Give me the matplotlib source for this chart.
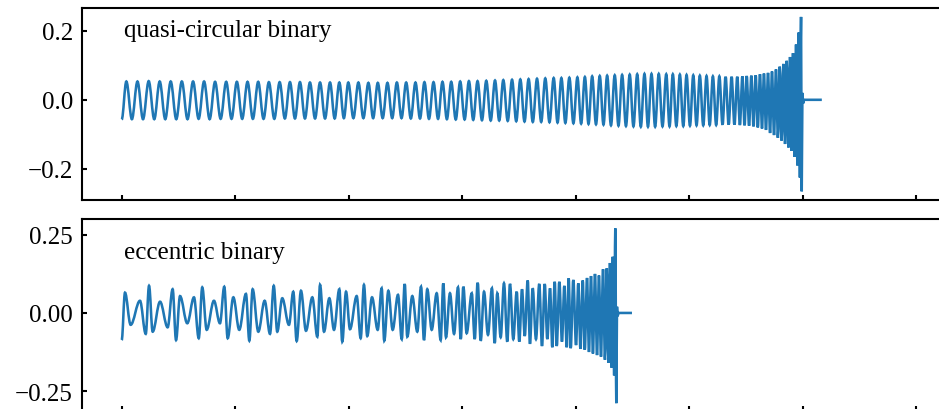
import matplotlib
matplotlib.use("Agg")
import matplotlib.pyplot as plt
from matplotlib.path import Path
from matplotlib.patches import PathPatch
import numpy as np

plt.rcParams['font.family'] = 'serif'
plt.rcParams['font.serif'] = ['Liberation Serif', 'DejaVu Serif']
plt.rcParams['axes.unicode_minus'] = True

# ---- data: extrema of each waveform (time in tick units, strain) ----
# quasi-circular binary: alternating trough / peak
circ_t = [
    0.000, 0.041, 0.090, 0.139, 0.188, 0.238, 0.287, 0.335, 0.384, 0.432,
    0.481, 0.530, 0.580, 0.629, 0.678, 0.726, 0.775, 0.823, 0.872, 0.921,
    0.968, 1.015, 1.062, 1.109, 1.156, 1.203, 1.250, 1.297, 1.345, 1.392,
    1.438, 1.483, 1.527, 1.571, 1.615, 1.659, 1.704, 1.748, 1.792, 1.836,
    1.877, 1.918, 1.958, 1.997, 2.042, 2.086, 2.130, 2.174, 2.216, 2.257,
    2.300, 2.342, 2.384, 2.425, 2.466, 2.507, 2.548, 2.589, 2.629, 2.668,
    2.708, 2.748, 2.788, 2.827, 2.866, 2.904, 2.944, 2.983, 3.022, 3.060,
    3.098, 3.136, 3.175, 3.213, 3.252, 3.290, 3.327, 3.363, 3.402, 3.440,
    3.477, 3.513, 3.550, 3.586, 3.623, 3.660, 3.697, 3.733, 3.770, 3.807,
    3.841, 3.875, 3.910, 3.945, 3.981, 4.016, 4.049, 4.082, 4.114, 4.146,
    4.180, 4.213, 4.246, 4.278, 4.312, 4.345, 4.378, 4.410, 4.444, 4.477,
    4.510, 4.543, 4.575, 4.607, 4.638, 4.669, 4.701, 4.733, 4.766, 4.799,
    4.828, 4.857, 4.888, 4.919, 4.949, 4.978, 5.008, 5.037, 5.066, 5.095,
    5.125, 5.154, 5.182, 5.210, 5.239, 5.267, 5.295, 5.322, 5.349, 5.375,
    5.400, 5.425, 5.448, 5.470, 5.489, 5.508, 5.529, 5.549, 5.568, 5.587,
    5.606, 5.625, 5.643, 5.660, 5.678, 5.696, 5.714, 5.731, 5.749, 5.766,
    5.783, 5.799, 5.815, 5.831, 5.846, 5.861, 5.876, 5.890, 5.903, 5.916,
    5.930, 5.943, 5.955, 5.967, 5.977, 5.987, 5.993, 5.999, 6.005, 6.012,
    6.170,
]
circ_h = [
    -0.057, 0.053, -0.056, 0.053, -0.056, 0.054, -0.056, 0.053, -0.056, 0.053,
    -0.056, 0.053, -0.056, 0.053, -0.055, 0.053, -0.056, 0.052, -0.055, 0.052,
    -0.055, 0.052, -0.055, 0.052, -0.055, 0.052, -0.055, 0.051, -0.055, 0.051,
    -0.054, 0.051, -0.054, 0.051, -0.054, 0.050, -0.054, 0.050, -0.054, 0.050,
    -0.054, 0.050, -0.053, 0.050, -0.053, 0.050, -0.053, 0.049, -0.053, 0.049,
    -0.053, 0.049, -0.053, 0.050, -0.053, 0.050, -0.054, 0.050, -0.054, 0.051,
    -0.055, 0.051, -0.055, 0.052, -0.056, 0.052, -0.057, 0.053, -0.057, 0.054,
    -0.058, 0.054, -0.059, 0.055, -0.060, 0.056, -0.060, 0.057, -0.061, 0.058,
    -0.062, 0.059, -0.063, 0.060, -0.064, 0.061, -0.064, 0.062, -0.065, 0.063,
    -0.066, 0.063, -0.067, 0.064, -0.068, 0.065, -0.069, 0.066, -0.070, 0.068,
    -0.071, 0.069, -0.072, 0.070, -0.074, 0.071, -0.075, 0.072, -0.076, 0.073,
    -0.077, 0.074, -0.078, 0.075, -0.078, 0.075, -0.078, 0.075, -0.077, 0.074,
    -0.077, 0.074, -0.076, 0.073, -0.076, 0.072, -0.075, 0.071, -0.074, 0.070,
    -0.074, 0.069, -0.073, 0.068, -0.073, 0.068, -0.072, 0.067, -0.072, 0.067,
    -0.072, 0.067, -0.073, 0.068, -0.074, 0.069, -0.075, 0.070, -0.077, 0.071,
    -0.080, 0.074, -0.083, 0.076, -0.087, 0.078, -0.096, 0.082, -0.102, 0.088,
    -0.110, 0.096, -0.118, 0.104, -0.128, 0.113, -0.138, 0.124, -0.148, 0.135,
    -0.165, 0.160, -0.190, 0.195, -0.225, 0.240, -0.265, 0.020, -0.010, 0.000,
    0.000,
]

# eccentric binary: extrema in time order
ecc_t = [
    0.000, 0.029, 0.079, 0.161, 0.212, 0.241, 0.273, 0.338, 0.405, 0.449,
    0.479, 0.514, 0.578, 0.637, 0.679, 0.710, 0.749, 0.813, 0.866, 0.904,
    0.934, 0.984, 1.036, 1.095, 1.125, 1.154, 1.204, 1.260, 1.307, 1.340,
    1.371, 1.415, 1.474, 1.512, 1.542, 1.580, 1.624, 1.680, 1.724, 1.748,
    1.783, 1.830, 1.871, 1.918, 1.944, 1.977, 2.012, 2.071, 2.106, 2.135,
    2.164, 2.206, 2.256, 2.291, 2.314, 2.350, 2.388, 2.435, 2.468, 2.494,
    2.517, 2.561, 2.605, 2.638, 2.664, 2.693, 2.732, 2.776, 2.811, 2.834,
    2.858, 2.893, 2.929, 2.964, 2.988, 3.011, 3.040, 3.085, 3.111, 3.137,
    3.164, 3.193, 3.228, 3.263, 3.287, 3.310, 3.340, 3.369, 3.398, 3.422,
    3.451, 3.481, 3.504, 3.528, 3.552, 3.578, 3.598, 3.622, 3.651, 3.680,
    3.704, 3.728, 3.751, 3.775, 3.795, 3.816, 3.834, 3.857, 3.880, 3.901,
    3.922, 3.939, 3.957, 3.980, 4.004, 4.024, 4.043, 4.063, 4.081, 4.101,
    4.118, 4.136, 4.153, 4.171, 4.189, 4.206, 4.224, 4.242, 4.259, 4.275,
    4.290, 4.303, 4.317, 4.328, 4.340, 4.350, 4.359, 4.365, 4.370, 4.378,
    4.497,
]
ecc_h = [
    -0.087, 0.065, -0.038, 0.039, -0.067, 0.087, -0.060, 0.036, -0.046, 0.076,
    -0.087, 0.054, -0.033, 0.050, -0.081, 0.082, -0.054, 0.039, -0.033, 0.084,
    -0.081, 0.050, -0.054, 0.061, -0.089, 0.076, -0.060, 0.039, -0.067, 0.087,
    -0.060, 0.047, -0.038, 0.068, -0.090, 0.071, -0.057, 0.050, -0.076, 0.090,
    -0.060, 0.047, -0.054, 0.076, -0.092, 0.068, -0.052, 0.054, -0.081, 0.090,
    -0.074, 0.050, -0.054, 0.079, -0.089, 0.071, -0.054, 0.058, -0.084, 0.093,
    -0.076, 0.054, -0.060, 0.084, -0.087, 0.076, -0.054, 0.063, -0.087, 0.095,
    -0.078, 0.063, -0.067, 0.082, -0.084, 0.084, -0.065, 0.063, -0.084, 0.097,
    -0.089, 0.068, -0.070, 0.079, -0.097, 0.063, -0.078, 0.095, -0.092, 0.093,
    -0.084, 0.068, -0.092, 0.076, -0.074, 0.104, -0.099, 0.079, -0.084, 0.093,
    -0.106, 0.093, -0.084, 0.079, -0.110, 0.100, -0.106, 0.100, -0.092, 0.087,
    -0.110, 0.111, -0.113, 0.106, -0.103, 0.095, -0.115, 0.104, -0.118, 0.112,
    -0.125, 0.118, -0.130, 0.125, -0.135, 0.120, -0.140, 0.140, -0.150, 0.143,
    -0.160, 0.160, -0.175, 0.180, -0.200, 0.271, -0.289, 0.020, -0.010, 0.000,
    0.000,
]

labels = ["quasi-circular binary", "eccentric binary"]
x_ticks = np.arange(0, 8)
y_ticks = [[-0.2, 0.0, 0.2], [-0.25, 0.0, 0.25]]
y_lims = [(-0.29, 0.265), (-0.313, 0.301)]
label_y = [0.185, 0.175]


def wave_path(t, h):
    # smooth half-cycles between successive extrema (flat tangents at extrema)
    verts = [(t[0], h[0])]
    codes = [Path.MOVETO]
    for k in range(1, len(t)):
        d = t[k] - t[k - 1]
        verts += [(t[k - 1] + 0.36 * d, h[k - 1]), (t[k] - 0.36 * d, h[k]), (t[k], h[k])]
        codes += [Path.CURVE4] * 3
    return Path(verts, codes)


fig = plt.figure(figsize=(9.39, 4.10), dpi=100)
ax1 = fig.add_axes([0.0873, 0.5098, 0.9305, 0.4676])
ax2 = fig.add_axes([0.0873, -0.0041, 0.9305, 0.4676])

series = [(circ_t, circ_h), (ecc_t, ecc_h)]
for i, ax in enumerate([ax1, ax2]):
    t, h = series[i]
    ax.add_patch(PathPatch(wave_path(t, h), facecolor='none',
                           edgecolor='#1f77b4', lw=1.85))
    ax.set_xlim(-0.35, 7.35)
    ax.set_ylim(*y_lims[i])
    ax.set_xticks(x_ticks)
    ax.set_xticklabels([])
    ax.set_yticks(y_ticks[i])
    ax.tick_params(direction='in', length=3.6, width=1.5, labelsize=18, pad=6.5)
    for s in ax.spines.values():
        s.set_linewidth(1.5)
    ax.text(0.02, label_y[i], labels[i], fontsize=18, ha='left', va='baseline')

fig.savefig('out.png', dpi=100)
